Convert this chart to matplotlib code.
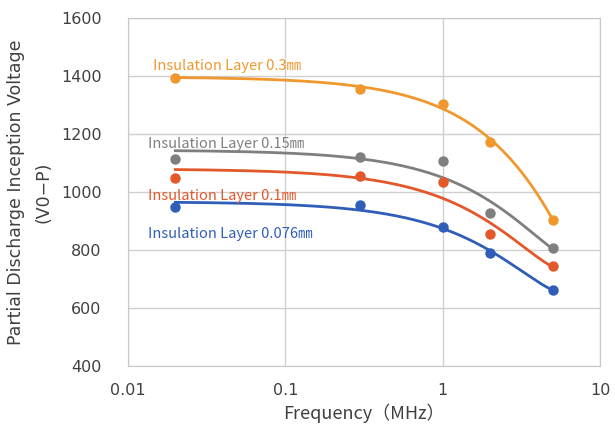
import numpy as np
import matplotlib
matplotlib.use('Agg')
import matplotlib.pyplot as plt

plt.rcParams['font.family'] = ['DejaVu Sans', 'Noto Sans CJK JP']

freq = [0.02, 0.3, 1, 2, 5]
v_03 = [1395, 1355, 1305, 1173, 905]
v_015 = [1114, 1121, 1108, 928, 807]
v_01 = [1048, 1056, 1034, 855, 745]
v_0076 = [948, 955, 879, 790, 662]

labels = ['Insulation Layer 0.3㎜', 'Insulation Layer 0.15㎜',
          'Insulation Layer 0.1㎜', 'Insulation Layer 0.076㎜']
colors = ['#F0982E', '#7F7F7F', '#E2582B', '#2F5DB8']
label_pos = [(0.0144, 1434), (0.0134, 1166), (0.0134, 986), (0.0134, 855)]

fig = plt.figure(figsize=(6.15, 4.33), dpi=100)
ax = fig.add_axes([0.208, 0.155, 0.768, 0.803])

xs = np.linspace(min(freq), max(freq), 400)
for vals, lab, c, pos in zip([v_03, v_015, v_01, v_0076], labels, colors, label_pos):
    # 2nd order trend line (polynomial in linear x)
    coef = np.polyfit(freq, vals, 2)
    ax.plot(xs, np.polyval(coef, xs), color=c, lw=2)
    ax.plot(freq, vals, 'o', color=c, ms=6.5)
    ax.text(pos[0], pos[1], lab, color=c, fontsize=10.5, va='center',
            family=['Noto Sans CJK JP', 'DejaVu Sans'])

ax.set_xscale('log')
ax.set_xlim(0.01, 10)
ax.set_ylim(400, 1600)
ax.set_xticks([0.01, 0.1, 1, 10])
ax.set_xticklabels(['0.01', '0.1', '1', '10'])
ax.set_yticks(range(400, 1601, 200))
ax.minorticks_off()
ax.tick_params(length=0, labelsize=11.5, colors='#404040')
ax.tick_params(axis='y', pad=19)
ax.tick_params(axis='x', pad=12)
ax.grid(True, color='#D0D0D0', lw=1)
for s in ax.spines.values():
    s.set_color('#C8C8C8')

ax.set_xlabel('Frequency（MHz）', fontsize=13, color='#404040', labelpad=4,
              family=['Noto Sans CJK JP', 'DejaVu Sans'])
ax.set_ylabel('Partial Discharge Inception Voltage\n(V0−P)', fontsize=12.5,
              color='#404040', labelpad=6, linespacing=1.65)

fig.savefig('out.png', dpi=100)
